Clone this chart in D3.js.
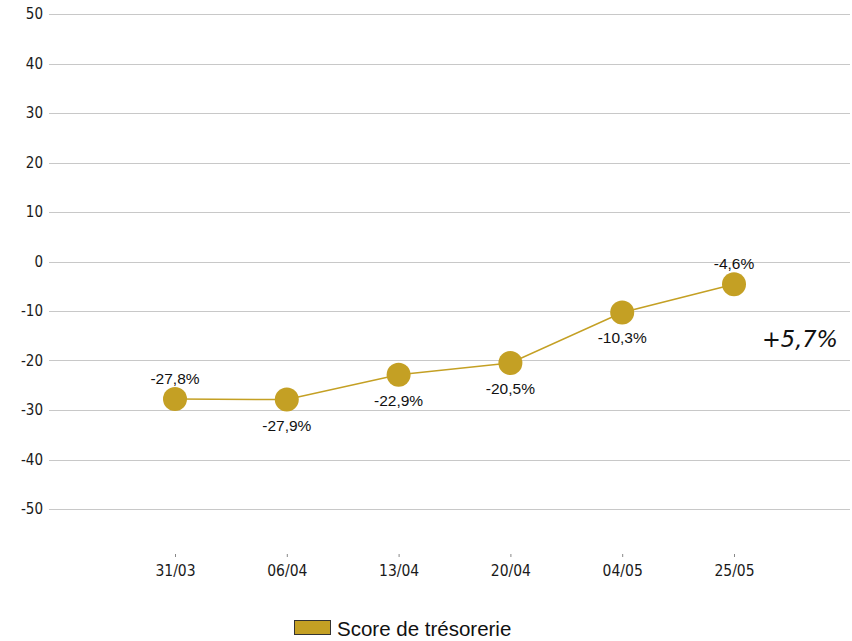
<!DOCTYPE html>
<html>
<head>
<meta charset="utf-8">
<script src="https://cdn.jsdelivr.net/npm/d3@7"></script>
<style>
  html, body { margin: 0; padding: 0; background: #fff; }
  svg { display: block; }
</style>
</head>
<body>
<svg id="chart" width="852" height="641"></svg>
<script>
// Chart data
const dates = ["31/03", "06/04", "13/04", "20/04", "04/05", "25/05"];
const scores = [-27.8, -27.9, -22.9, -20.5, -10.3, -4.6];
const labelAbove = [true, false, false, false, false, true];
const yTicks = [50, 40, 30, 20, 10, 0, -10, -20, -30, -40, -50];
const seriesName = "Score de trésorerie";
const changeNote = "+5,7%";

const gold = "#C4A024";
const svg = d3.select("#chart");

const y = d3.scaleLinear().domain([-60, 50]).range([558.5, 14]);
const x = d3.scalePoint().domain(dates).range([175, 734]);

const fmt = v => d3.format(".1f")(v).replace(".", ",").replace("−", "-") + "%";

// Horizontal gridlines
svg.append("g")
  .selectAll("line")
  .data(yTicks)
  .join("line")
  .attr("x1", 49).attr("x2", 850)
  .attr("y1", d => Math.round(y(d)) + 0.5)
  .attr("y2", d => Math.round(y(d)) + 0.5)
  .attr("stroke", "#c8c8c8")
  .attr("stroke-width", 1);

// Y axis labels
const yAxis = d3.axisLeft(y).tickValues(yTicks).tickSize(0).tickPadding(0)
  .tickFormat(d => String(d));
svg.append("g")
  .attr("transform", "translate(43,0)")
  .call(yAxis)
  .call(g => g.select(".domain").remove())
  .call(g => g.selectAll("text")
    .attr("font-family", "DejaVu Sans Condensed, DejaVu Sans")
    .attr("font-stretch", "condensed")
    .attr("font-size", 15)
    .attr("fill", "#1a1a1a"));

// X axis with short tick marks
const xAxis = d3.axisBottom(x).tickSize(3).tickPadding(8);
svg.append("g")
  .attr("transform", "translate(0,554)")
  .call(xAxis)
  .call(g => g.select(".domain").remove())
  .call(g => g.selectAll("line").attr("stroke", "#888"))
  .call(g => g.selectAll("text")
    .attr("font-family", "DejaVu Sans Condensed, DejaVu Sans")
    .attr("font-stretch", "condensed")
    .attr("font-size", 15.5)
    .attr("fill", "#1a1a1a"));

// Series line
const line = d3.line().x((d, i) => x(dates[i])).y(d => y(d));
svg.append("path")
  .datum(scores)
  .attr("d", line)
  .attr("fill", "none")
  .attr("stroke", gold)
  .attr("stroke-width", 1.5);

// Markers
svg.append("g")
  .selectAll("circle")
  .data(scores)
  .join("circle")
  .attr("cx", (d, i) => x(dates[i]))
  .attr("cy", d => y(d))
  .attr("r", 12)
  .attr("fill", gold);

// Value labels
svg.append("g")
  .selectAll("text")
  .data(scores)
  .join("text")
  .attr("x", (d, i) => x(dates[i]))
  .attr("y", (d, i) => y(d) + (labelAbove[i] ? -15.5 : 31))
  .attr("text-anchor", "middle")
  .attr("font-family", "Liberation Sans, Arial, sans-serif")
  .attr("font-size", 15.5)
  .attr("fill", "#111")
  .text(d => fmt(d));

// Change annotation
svg.append("text")
  .attr("x", 838)
  .attr("y", 347)
  .attr("text-anchor", "end")
  .attr("font-family", "DejaVu Sans")
  .attr("font-style", "oblique")
  .attr("font-size", 22.5)
  .attr("fill", "#111")
  .text(changeNote);

// Legend
const legend = svg.append("g");
legend.append("rect")
  .attr("x", 294.5).attr("y", 620.5)
  .attr("width", 36).attr("height", 14)
  .attr("fill", gold)
  .attr("stroke", "#333")
  .attr("stroke-width", 1);
legend.append("text")
  .attr("x", 337).attr("y", 636)
  .attr("font-family", "Liberation Sans, Arial, sans-serif")
  .attr("font-size", 20.5)
  .attr("fill", "#111")
  .text(seriesName);
</script>
</body>
</html>
